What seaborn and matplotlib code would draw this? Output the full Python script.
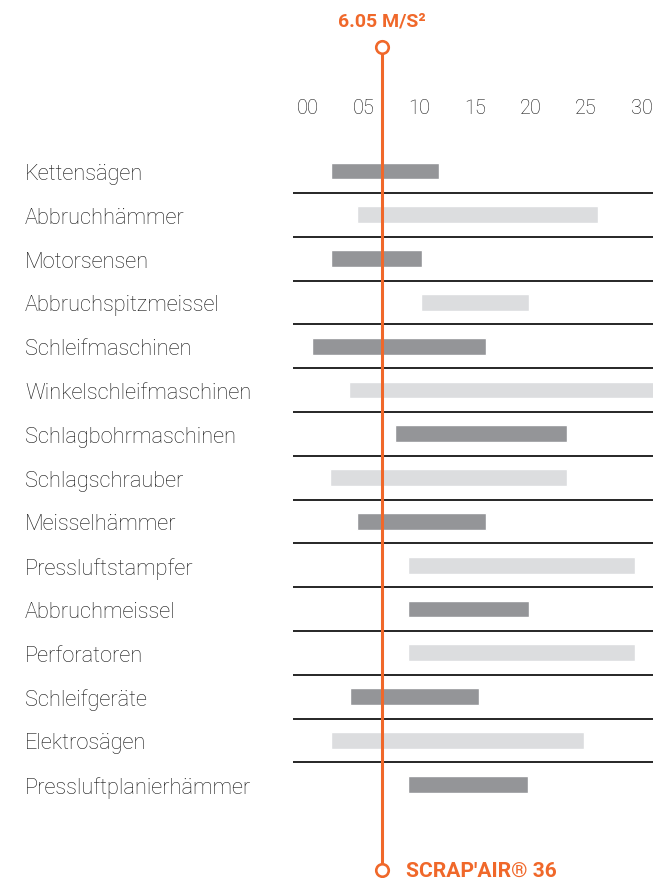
import matplotlib
matplotlib.use("Agg")
import matplotlib.pyplot as plt
import seaborn as sns
import pandas as pd

categories = ["Kettensägen", "Abbruchhämmer", "Motorsensen", "Abbruchspitzmeissel",
              "Schleifmaschinen", "Winkelschleifmaschinen", "Schlagbohrmaschinen",
              "Schlagschrauber", "Meisselhämmer", "Pressluftstampfer", "Abbruchmeissel",
              "Perforatoren", "Schleifgeräte", "Elektrosägen", "Pressluftplanierhämmer"]
range_start = [2.1, 4.4, 2.1, 10.2, 0.4, 3.7, 7.8, 2.0, 4.4, 9.0, 9.0, 9.0, 3.8, 2.1, 9.0]
range_end = [11.8, 26.1, 10.3, 19.9, 16.0, 31.5, 23.3, 23.3, 16.0, 29.4, 19.9, 29.4, 15.4, 24.8, 19.8]
tick_values = [0, 5, 10, 15, 20, 25, 30]
tick_labels = ["00", "05", "10", "15", "20", "25", "30"]
limit_position = 6.64
limit_label = "6.05 M/S²"
product_label = "SCRAP'AIR® 36"

ORANGE = "#f0682a"
DARK = "#949598"
LIGHT = "#dcdddf"
TEXT = "#151515"

sns.set_theme(style="white")
plt.rcParams["font.family"] = ["Roboto", "DejaVu Sans"]

W, H = 653, 879
fig = plt.figure(figsize=(W / 100, H / 100), dpi=100)
ax_left, ax_top = 293, 125
ax = fig.add_axes([ax_left / W, 0, 1 - ax_left / W, 1 - ax_top / H])
renderer = fig.canvas.get_renderer()


def fitted_size(text, target_px, base=14, **kw):
    t = fig.text(0, 0, text, fontsize=base, **kw)
    w = t.get_window_extent(renderer).width
    t.remove()
    return base * target_px / w


label_size = fitted_size("Winkelschleifmaschinen", 227, fontweight="light")
product_size = fitted_size(product_label, 151, fontweight="bold")

df = pd.DataFrame({"category": categories, "start": range_start, "end": range_end})
colors = [DARK if i % 2 == 0 else LIGHT for i in range(len(categories))]
sns.barplot(data=df, x="end", y="category", hue="category", palette=colors,
            width=0.38, legend=False, ax=ax, orient="h", saturation=1,
            errorbar=None, zorder=2)
for patch, s, e in zip(ax.patches, range_start, range_end):
    patch.set_x(s)
    patch.set_width(e - s)

# scales: pixel mapping
px0, ppu = 307.7, 11.14
row0, rowh = 172, 43.8
ax.set_xlim((ax_left - px0) / ppu, (W - px0) / ppu)
ax.set_ylim((H - row0) / rowh, (ax_top - row0) / rowh)

for i in range(len(categories) - 1):
    ax.axhline(i + 0.5, color="#262626", lw=1.4, zorder=3)

ax.xaxis.tick_top()
ax.set_xticks(tick_values)
ax.set_xticklabels(tick_labels)
ax.set_yticks(range(len(categories)))
ax.set_yticklabels(categories)
ax.tick_params(axis="x", length=0, pad=5, labelsize=14.3, labelcolor=TEXT)
ax.tick_params(axis="y", length=0, pad=(ax_left - 25) * 0.72, labelsize=label_size,
               labelcolor=TEXT)
for lab in ax.get_xticklabels() + ax.get_yticklabels():
    lab.set_fontweight("light")
for lab in ax.get_yticklabels():
    lab.set_ha("left")
ax.set_xlabel("")
ax.set_ylabel("")
for sp in ax.spines.values():
    sp.set_visible(False)

y_top = (47.7 - row0) / rowh
y_bot = (871 - row0) / rowh
ax.plot([limit_position, limit_position], [y_top, y_bot], color=ORANGE, lw=2.2,
        clip_on=False, zorder=5)
ax.plot([limit_position, limit_position], [y_top, y_bot], ls="none", marker="o",
        markersize=9, markerfacecolor="white", markeredgecolor=ORANGE, mew=1.9,
        clip_on=False, zorder=6)
ax.text(limit_position, (22 - row0) / rowh, limit_label, color=ORANGE, fontsize=14,
        fontweight="bold", ha="center", va="center")
ax.text(limit_position + (406 - 381.7) / ppu, y_bot, product_label, color=ORANGE,
        fontsize=product_size, fontweight="bold", ha="left", va="center")

fig.savefig("out.png", dpi=100)
